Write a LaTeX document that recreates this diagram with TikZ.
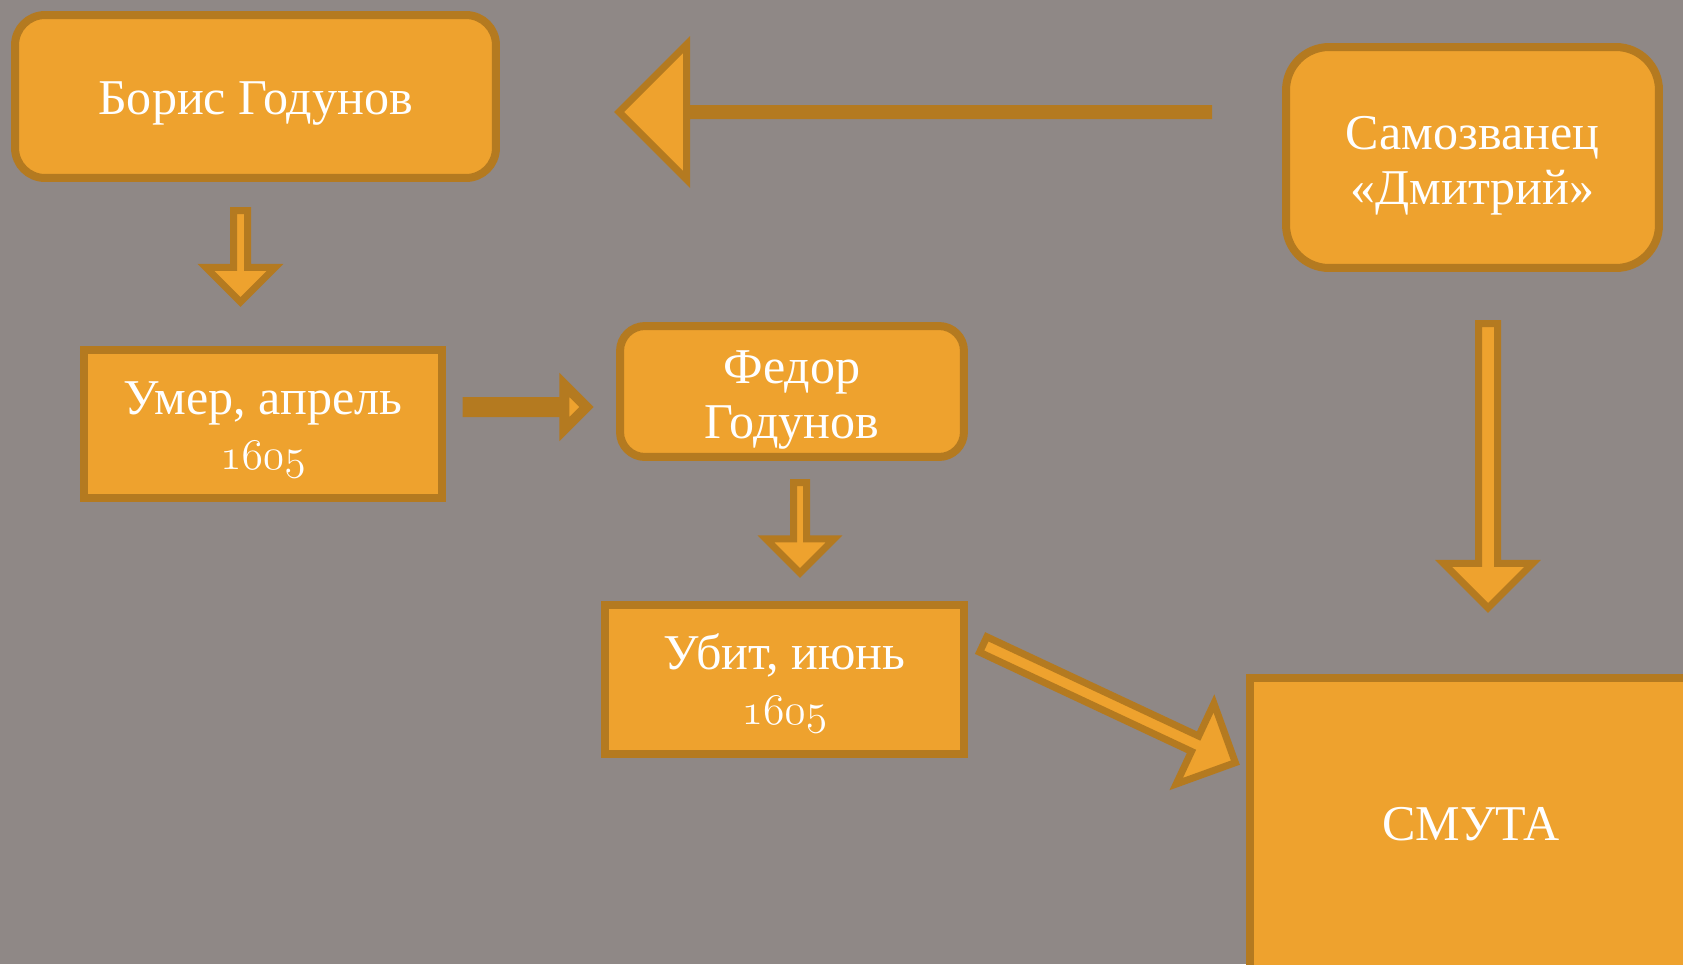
\documentclass[tikz,border=0pt]{standalone}
\usepackage{fontspec}
\setmainfont{Liberation Serif}
\usetikzlibrary{shapes.arrows}

\definecolor{slidegray}{RGB}{143,136,134}
\definecolor{boxfill}{RGB}{238,162,46}
\definecolor{boxline}{RGB}{180,122,32}

% old style year digits
\newcommand{\yr}[1]{{\fontsize{34}{31.5}\selectfont$\mathnormal{#1}$}}
% pushes the text of a box down a little
\newcommand{\boxstrut}[1]{\rule{0pt}{#1}}

\tikzset{
  box/.style={draw=boxline, fill=boxfill, line width=0.16cm, text=white,
    font=\fontsize{28.5}{31.5}\selectfont, align=center, inner sep=0pt},
  blockarrow/.style={single arrow, draw=boxline, fill=boxfill, line width=0.14cm,
    inner xsep=0pt, outer sep=0pt, single arrow tip angle=90, anchor=tail}
}

\begin{document}
\begin{tikzpicture}[x=0.02cm,y=-0.02cm]
  \useasboundingbox (0,0) rectangle (1683,964);
  \clip (0,0) rectangle (1683,964);
  \fill[slidegray] (0,0) rectangle (1683,964);

  % boxes
  \node[box, rounded corners=0.6cm, minimum width=9.62cm, minimum height=3.26cm] (boris) at (255.5,96.5) {\boxstrut{27pt}Борис Годунов};
  \node[box, rounded corners=0.86cm, minimum width=7.46cm, minimum height=4.42cm] (samoz) at (1472.5,157.5) {\boxstrut{28pt}Самозванец\\«Дмитрий»};
  \node[box, minimum width=7.16cm, minimum height=2.96cm] (umer) at (263,424) {\boxstrut{25.5pt}Умер, апрель\\\yr{1605}};
  \node[box, rounded corners=0.5cm, minimum width=6.88cm, minimum height=2.62cm] (fedor) at (792,391.5) {\boxstrut{28pt}Федор\\Годунов};
  \node[box, minimum width=7.18cm, minimum height=2.98cm] (ubit) at (784.5,679.5) {\boxstrut{24.5pt}Убит, июнь\\\yr{1605}};
  \node[box, minimum width=8.84cm, minimum height=5.84cm] (smuta) at (1471,824) {СМУТА};

  % arrows
  \node[blockarrow, rotate=-90, minimum height=1.83cm, inner ysep=0.07cm, single arrow head extend=0.55cm] (borisumer) at (240.5,210.5) {};
  \node[blockarrow, line width=0.2cm, minimum height=2.38cm, inner ysep=0cm, single arrow head extend=0.34cm] (umerfedor) at (467.5,407) {};
  \node[blockarrow, rotate=-90, minimum height=1.81cm, inner ysep=0.06cm, single arrow head extend=0.55cm] (fedorubit) at (800,482.5) {};
  \node[blockarrow, rotate=-90, minimum height=5.69cm, inner ysep=0.12cm, single arrow head extend=0.70cm] (samozsmuta) at (1488,323.5) {};
  \node[blockarrow, rotate=-25.1, minimum height=5.57cm, inner ysep=0.10cm, single arrow head extend=0.72cm] (ubitsmuta) at (983.2,644.5) {};
  \node[blockarrow, rotate=180, minimum height=11.79cm, inner ysep=0cm, single arrow head extend=1.28cm] (samozboris) at (1208.5,112) {};
\end{tikzpicture}
\end{document}
